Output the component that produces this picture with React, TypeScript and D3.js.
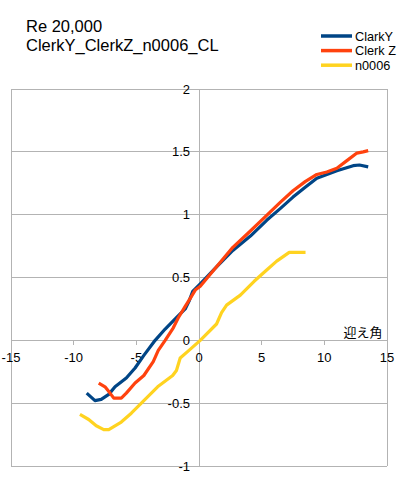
import React from "react";
import * as d3 from "d3";

const titleLines = ["Re 20,000", "ClerkY_ClerkZ_n0006_CL"];
const seriesNames = ["ClarkY", "Clerk Z", "n0006"];
const seriesColors = ["#004586", "#ff420e", "#ffd320"];
const xTicks = [-15, -10, -5, 0, 5, 10, 15];
const yTicks = [-1, -0.5, 0, 0.5, 1, 1.5, 2];
const xAxisTitle = "迎え角";

const clarkY: [number, number][] = [
  [-8.96, -0.42], [-8.3, -0.48], [-7.8, -0.47], [-7.2, -0.43], [-6.7, -0.37],
  [-5.8, -0.3], [-5.1, -0.22], [-4.4, -0.12], [-3.5, 0.0], [-2.7, 0.09],
  [-1.9, 0.17], [-1.1, 0.25], [-0.8, 0.31], [-0.5, 0.39], [0.1, 0.45],
  [1.4, 0.585], [2.7, 0.715], [4.1, 0.83], [5.4, 0.955], [6.5, 1.05],
  [7.5, 1.14], [8.5, 1.22], [9.4, 1.29], [11.0, 1.35], [12.3, 1.39],
  [12.8, 1.395], [13.5, 1.38],
];

const clerkZ: [number, number][] = [
  [-8.0, -0.34], [-7.5, -0.37], [-7.1, -0.42], [-6.8, -0.46], [-6.2, -0.46],
  [-5.8, -0.42], [-5.1, -0.34], [-4.4, -0.28], [-3.65, -0.17], [-3.25, -0.08],
  [-2.7, 0.0], [-2.05, 0.1], [-1.65, 0.18], [-1.1, 0.27], [-0.6, 0.35],
  [-0.3, 0.4], [0.1, 0.43], [1.4, 0.585], [2.7, 0.74], [4.1, 0.87],
  [5.4, 0.995], [6.5, 1.1], [7.5, 1.19], [8.5, 1.265], [9.4, 1.32],
  [10.2, 1.34], [11.0, 1.37], [11.8, 1.43], [12.6, 1.49], [13.1, 1.5],
  [13.5, 1.51],
];

const n0006: [number, number][] = [
  [-9.5, -0.59], [-8.8, -0.63], [-8.2, -0.68], [-7.6, -0.71], [-7.2, -0.71],
  [-6.2, -0.65], [-5.4, -0.58], [-4.6, -0.5], [-3.3, -0.37], [-2.1, -0.28],
  [-1.8, -0.24], [-1.5, -0.14], [-0.8, -0.08], [0.1, 0.0], [1.4, 0.13],
  [1.8, 0.22], [2.2, 0.28], [3.3, 0.36], [4.4, 0.47], [5.4, 0.56],
  [6.2, 0.63], [7.2, 0.7], [8.5, 0.7],
];

const allSeries = [clarkY, clerkZ, n0006];

export default function App() {
  const W = 400;
  const H = 500;
  const x = d3.scaleLinear().domain([-15, 15]).range([11, 387]);
  const y = d3.scaleLinear().domain([-1, 2]).range([466, 89]);
  const line = d3
    .line<[number, number]>()
    .x((d) => x(d[0]))
    .y((d) => y(d[1]))
    .curve(d3.curveLinear);
  const grid = "#b3b3b3";
  const font = "'Liberation Sans', Arial, sans-serif";

  return (
    <svg
      width={W}
      height={H}
      style={{ position: "absolute", left: 0, top: 0, background: "#fff" }}
      fontFamily={font}
    >
      <rect x={0} y={0} width={W} height={H} fill="#fff" />
      {/* title */}
      {titleLines.map((t, i) => (
        <text key={t} x={26} y={31.5 + i * 19} fontSize={16.5} fill="#000">
          {t}
        </text>
      ))}
      {/* legend */}
      {seriesNames.map((n, i) => (
        <g key={n}>
          <line
            x1={321}
            x2={352}
            y1={36 + i * 14.6}
            y2={36 + i * 14.6}
            stroke={seriesColors[i]}
            strokeWidth={3.5}
          />
          <text x={355} y={40.5 + i * 14.6} fontSize={12.7} fill="#000">
            {n}
          </text>
        </g>
      ))}
      {/* horizontal gridlines */}
      {yTicks.map((t) => (
        <line
          key={"g" + t}
          x1={x(-15)}
          x2={x(15)}
          y1={y(t)}
          y2={y(t)}
          stroke={grid}
          strokeWidth={1}
          shapeRendering="crispEdges"
        />
      ))}
      {/* border verticals */}
      <line x1={x(-15)} x2={x(-15)} y1={y(2)} y2={y(-1)} stroke={grid} shapeRendering="crispEdges" />
      <line x1={x(15)} x2={x(15)} y1={y(2)} y2={y(-1)} stroke={grid} shapeRendering="crispEdges" />
      {/* y axis at x=0 */}
      <line x1={x(0)} x2={x(0)} y1={y(2)} y2={y(-1)} stroke={grid} shapeRendering="crispEdges" />
      {/* x ticks */}
      {xTicks.map((t) => (
        <g key={"xt" + t}>
          <line x1={x(t)} x2={x(t)} y1={y(0)} y2={y(0) + 5} stroke={grid} shapeRendering="crispEdges" />
          <text x={x(t)} y={y(0) + 22} fontSize={13} textAnchor="middle" fill="#000">
            {t}
          </text>
        </g>
      ))}
      {/* y tick labels */}
      {yTicks.map((t) => (
        <text key={"yl" + t} x={x(0) - 9} y={y(t) + 4.6} fontSize={13} textAnchor="end" fill="#000">
          {t}
        </text>
      ))}
      {/* x axis title */}
      <text
        x={363}
        y={337}
        fontSize={13}
        textAnchor="middle"
        fill="#000"
        fontFamily="'Noto Sans CJK JP', sans-serif"
      >
        {xAxisTitle}
      </text>
      {/* series lines */}
      {allSeries.map((s, i) => (
        <path
          key={"s" + i}
          d={line(s) || ""}
          fill="none"
          stroke={seriesColors[i]}
          strokeWidth={3.2}
          strokeLinejoin="round"
          strokeLinecap="butt"
        />
      ))}
    </svg>
  );
}
